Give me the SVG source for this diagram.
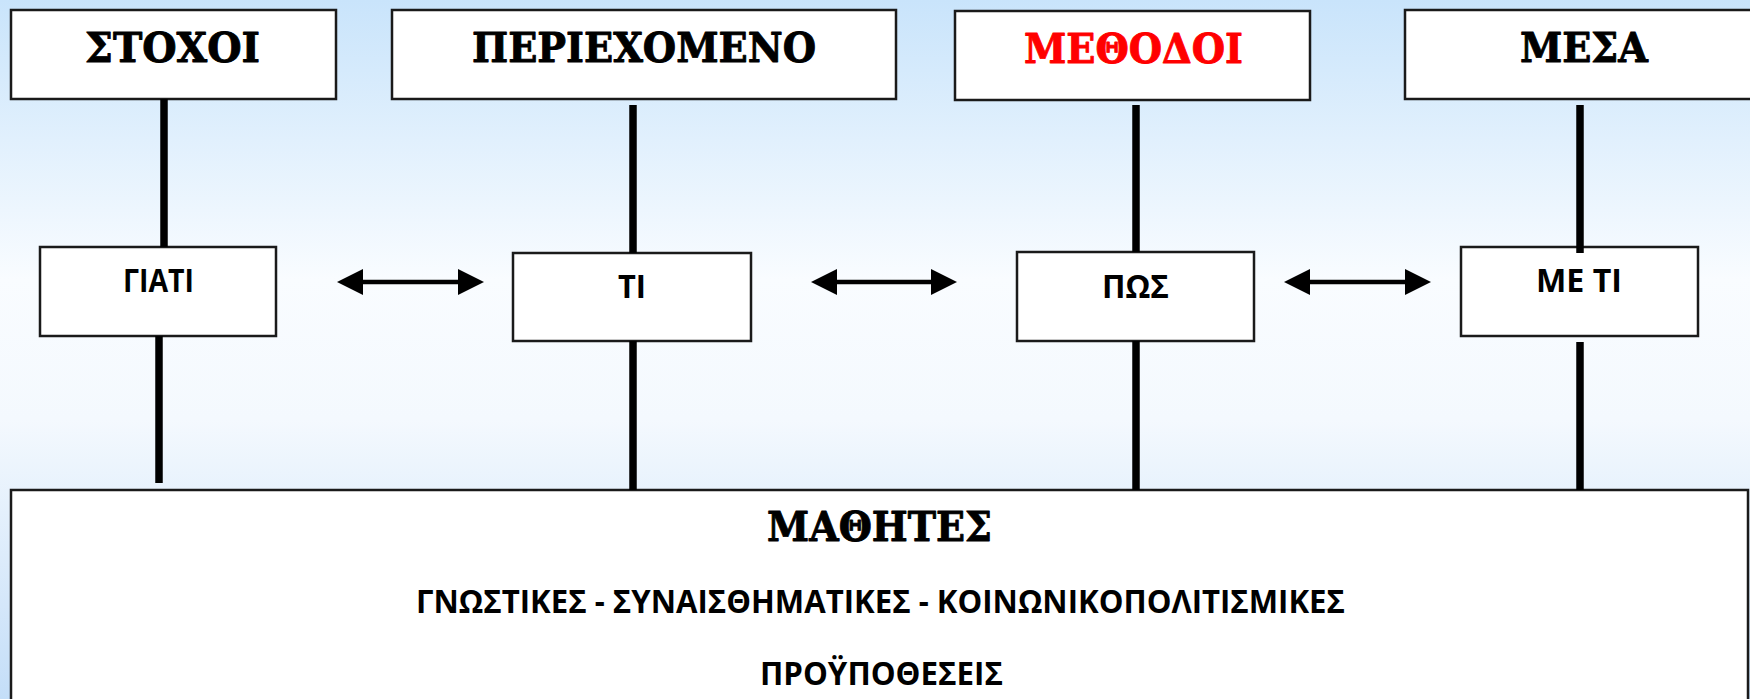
<svg xmlns="http://www.w3.org/2000/svg" width="1750" height="699" viewBox="0 0 1750 699">
  <defs>
    <linearGradient id="bg" x1="0" y1="0" x2="0" y2="1">
      <stop offset="0" stop-color="#c9e4fb"/>
      <stop offset="0.4" stop-color="#f9fcff"/>
      <stop offset="0.6" stop-color="#f4f9fe"/>
      <stop offset="1" stop-color="#c4def8"/>
    </linearGradient>
    <marker id="head" viewBox="0 -13 26 26" refX="12" refY="0" markerWidth="26" markerHeight="26" markerUnits="userSpaceOnUse" orient="auto-start-reverse">
      <path d="M0,-13 L26,0 L0,13 z" fill="#000"/>
    </marker>
    <style>
      .box { fill: #fff; stroke: #1a1a1a; stroke-width: 2.5; }
      .title { font-family: "DejaVu Serif", "Liberation Serif", serif; font-weight: 700; font-size: 41px; fill: #000; stroke: #000; stroke-width: 0.9; stroke-linejoin: round; }
      .title.red { fill: #ff0000; stroke: #ff0000; }
      .label { font-family: "Open Sans", "Noto Sans", "Liberation Sans", sans-serif; font-weight: 700; font-size: 33px; fill: #000; }
      .stem { stroke: #000; stroke-width: 7.5; fill: none; }
      .link { stroke: #000; stroke-width: 4.5; fill: none; marker-start: url(#head); marker-end: url(#head); }
    </style>
  </defs>

  <rect x="0" y="0" width="1750" height="699" fill="url(#bg)"/>

  <!-- top row: headings -->
  <g id="stoxoi">
    <rect class="box" x="11" y="10" width="325" height="89"/>
    <text class="title" x="85" y="62" textLength="175" lengthAdjust="spacingAndGlyphs">ΣΤΟΧΟΙ</text>
  </g>
  <g id="periexomeno">
    <rect class="box" x="392" y="10" width="504" height="89"/>
    <text class="title" x="472" y="62" textLength="344" lengthAdjust="spacingAndGlyphs">ΠΕΡΙΕΧΟΜΕΝΟ</text>
  </g>
  <g id="methodoi">
    <rect class="box" x="955" y="11" width="355" height="89"/>
    <text class="title red" x="1024" y="63" textLength="219" lengthAdjust="spacingAndGlyphs">ΜΕΘΟΔΟΙ</text>
  </g>
  <g id="mesa">
    <rect class="box" x="1405" y="10" width="360" height="89"/>
    <text class="title" x="1520" y="62" textLength="128" lengthAdjust="spacingAndGlyphs">ΜΕΣΑ</text>
  </g>

  <!-- middle row: questions -->
  <g id="giati">
    <rect class="box" x="40" y="247" width="236" height="89"/>
    <text class="label" x="123" y="292" textLength="71" lengthAdjust="spacingAndGlyphs">ΓΙΑΤΙ</text>
  </g>
  <g id="ti">
    <rect class="box" x="513" y="253" width="238" height="88"/>
    <text class="label" x="618" y="298" textLength="28" lengthAdjust="spacingAndGlyphs">ΤΙ</text>
  </g>
  <g id="pos">
    <rect class="box" x="1017" y="252" width="237" height="89"/>
    <text class="label" x="1102" y="298" textLength="67" lengthAdjust="spacingAndGlyphs">ΠΩΣ</text>
  </g>
  <g id="me-ti">
    <rect class="box" x="1461" y="247" width="237" height="89"/>
    <text class="label" x="1536" y="292" textLength="86" lengthAdjust="spacingAndGlyphs">ΜΕ ΤΙ</text>
  </g>

  <!-- base: learners -->
  <g id="mathites">
    <rect class="box" x="11" y="490" width="1737" height="230"/>
    <text class="title" x="767" y="541" textLength="225" lengthAdjust="spacingAndGlyphs">ΜΑΘΗΤΕΣ</text>
    <text class="label" x="416" y="613" textLength="929" lengthAdjust="spacingAndGlyphs">ΓΝΩΣΤΙΚΕΣ - ΣΥΝΑΙΣΘΗΜΑΤΙΚΕΣ - ΚΟΙΝΩΝΙΚΟΠΟΛΙΤΙΣΜΙΚΕΣ</text>
    <text class="label" x="760" y="685" textLength="243" lengthAdjust="spacingAndGlyphs">ΠΡΟΫΠΟΘΕΣΕΙΣ</text>
  </g>

  <!-- connectors -->
  <g id="connectors">
    <line class="stem" x1="164" y1="99" x2="164" y2="247"/>
    <line class="stem" x1="159" y1="336" x2="159" y2="483"/>
    <line class="stem" x1="633" y1="105" x2="633" y2="253"/>
    <line class="stem" x1="633" y1="341" x2="633" y2="490"/>
    <line class="stem" x1="1136" y1="105" x2="1136" y2="252"/>
    <line class="stem" x1="1136" y1="341" x2="1136" y2="490"/>
    <line class="stem" x1="1580" y1="105" x2="1580" y2="253"/>
    <line class="stem" x1="1580" y1="342" x2="1580" y2="490"/>
    <line class="link" x1="351" y1="282" x2="470" y2="282"/>
    <line class="link" x1="825" y1="282" x2="943" y2="282"/>
    <line class="link" x1="1298" y1="282" x2="1417" y2="282"/>
  </g>
</svg>
